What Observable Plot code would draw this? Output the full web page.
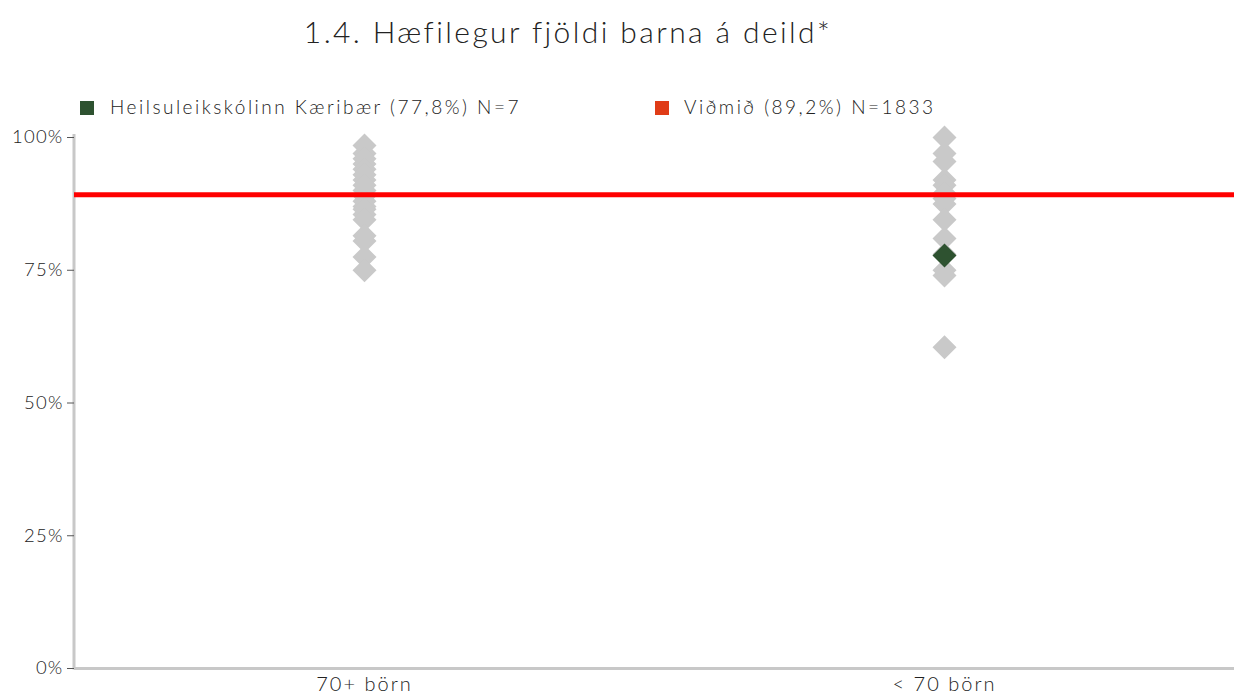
<!DOCTYPE html>
<html><head><meta charset="utf-8">
<script src="https://cdn.jsdelivr.net/npm/d3@7"></script>
<script src="https://cdn.jsdelivr.net/npm/@observablehq/plot@0.6"></script>
<style>
body{margin:0;background:#fff;font-family:Lato,"Open Sans",sans-serif;}
#wrap{position:relative;width:1244px;height:697px;overflow:hidden;}
#title{position:absolute;left:0;top:13px;width:1136px;text-align:center;font-size:30px;font-weight:300;color:#222;letter-spacing:2.4px;white-space:nowrap;}
.sq{position:absolute;width:14px;height:14px;top:101px;}
.lt{position:absolute;top:95px;font-size:19px;font-weight:300;color:#222;letter-spacing:2.5px;white-space:nowrap;}
#chart{position:absolute;left:0;top:125px;}
#chart svg text{letter-spacing:1.2px;font-weight:300;}
#chart svg g[aria-label="x-axis tick label"] text{font-size:20px;letter-spacing:2px;}
</style></head>
<body><div id="wrap">
<div id="title"></div>
<div class="sq" id="sq1" style="left:80px"></div><div class="lt" id="lt1" style="left:110px"></div>
<div class="sq" id="sq2" style="left:655px"></div><div class="lt" id="lt2" style="left:684px"></div>
<div id="chart"></div>
</div>
<script>
const titleText = "1.4. Hæfilegur fjöldi barna á deild*";
const categories = ["70+ börn", "< 70 börn"];
const over70Values = [98.5, 97, 96, 95, 94, 93, 92, 91, 90, 89, 88, 87, 86.5, 85.5, 84.5, 81.5, 80.5, 77.5, 75];
const under70Values = [100, 97, 95.5, 92, 91, 89.5, 88.5, 87.5, 84.5, 81, 78, 75, 74, 60.5];
const schoolCategory = "< 70 börn";
const schoolValue = 77.8;
const benchmarkValue = 89.2;
const legendLabels = ["Heilsuleikskólinn Kæribær (77,8%) N=7", "Viðmið (89,2%) N=1833"];
const yTicks = [0, 25, 50, 75, 100];

const green = "#2e5230", red = "#ff0000", legendRed = "#e03c17", grayFill = "#c9c9c9";

document.getElementById("title").textContent = titleText;
document.getElementById("lt1").textContent = legendLabels[0];
document.getElementById("lt2").textContent = legendLabels[1];
document.getElementById("sq1").style.background = green;
document.getElementById("sq2").style.background = legendRed;

const grayData = [
  ...over70Values.map(v => ({cat: categories[0], v})),
  ...under70Values.map(v => ({cat: categories[1], v}))
];
const schoolData = [{cat: schoolCategory, v: schoolValue}];

const diamond = {draw(ctx, size) {
  const r = Math.sqrt(size / Math.PI);
  ctx.moveTo(0, -r); ctx.lineTo(r, 0); ctx.lineTo(0, r); ctx.lineTo(-r, 0); ctx.closePath();
}};

const mL = 74, mR = 10, mT = 12, mB = 29, W = 1244, H = 572;
const chart = Plot.plot({
  width: W, height: H, marginLeft: mL, marginRight: mR, marginTop: mT, marginBottom: mB,
  x: {type: "band", domain: categories, padding: 0, label: null},
  y: {domain: [0, 100], label: null},
  style: {fontFamily: "Lato, 'Open Sans', sans-serif", fontSize: "18.5px", color: "#222", background: "transparent", overflow: "visible"},
  marks: [
    Plot.axisY(yTicks, {tickSize: 7, tickPadding: 4, stroke: "#555", fill: "#222", tickFormat: d => d + "%", label: null}),
    Plot.axisX({tickSize: 0, tickPadding: 8, fill: "#222", label: null}),
    Plot.ruleY([0], {stroke: "#c8c8c8", strokeWidth: 3}),
    Plot.dot(grayData, {x: "cat", y: "v", symbol: diamond, r: 12, fill: grayFill}),
    Plot.ruleY([benchmarkValue], {stroke: red, strokeWidth: 5}),
    Plot.dot(schoolData, {x: "cat", y: "v", symbol: diamond, r: 12, fill: green})
  ]
});
document.getElementById("chart").appendChild(chart);
const ys = chart.scale("y");
d3.select(chart).insert("line", ":first-child")
  .attr("x1", mL).attr("x2", mL)
  .attr("y1", ys.apply(100) - 3).attr("y2", ys.apply(0) + 1.5)
  .attr("stroke", "#c8c8c8").attr("stroke-width", 3);
</script>
</body></html>
